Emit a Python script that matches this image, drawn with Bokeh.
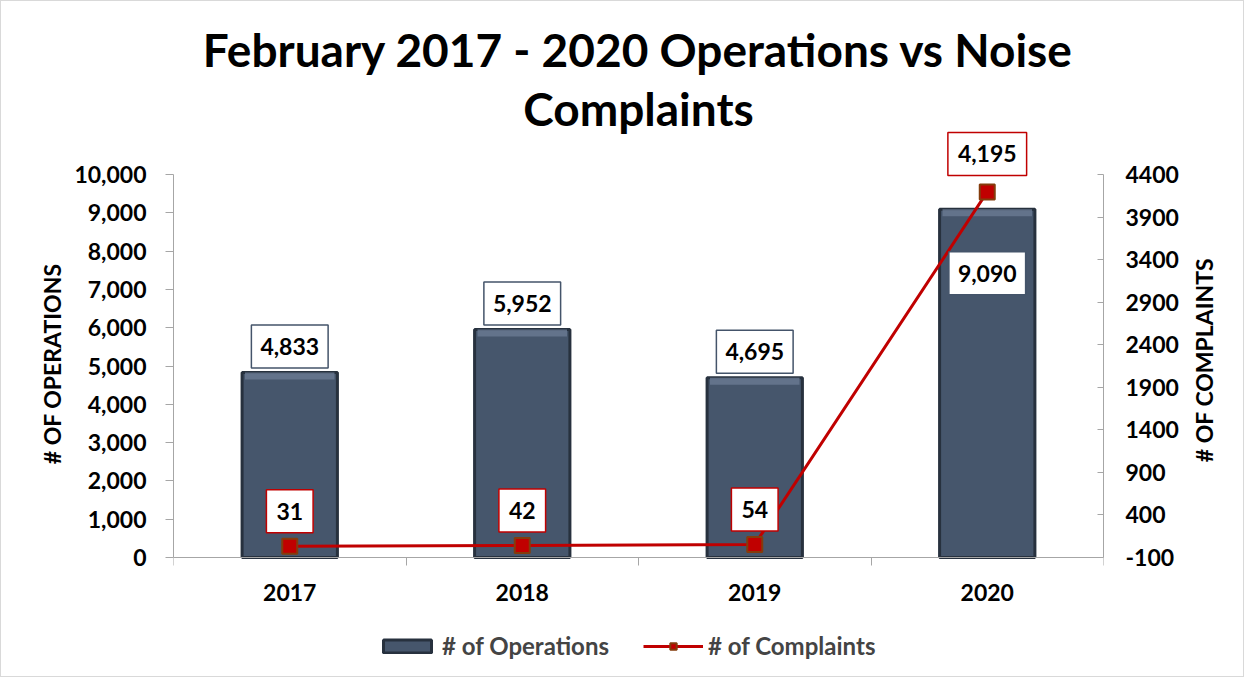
import math
from bokeh.plotting import figure
from bokeh.models import (Range1d, LinearAxis, FixedTicker, NumeralTickFormatter,
                          Label, Legend, LegendItem, Title, ColumnDataSource)
from bokeh.embed import file_html
from bokeh.resources import INLINE

years = ["2017", "2018", "2019", "2020"]
operations = [4833, 5952, 4695, 9090]
complaints = [31, 42, 54, 4195]
left_ticks = [0, 1000, 2000, 3000, 4000, 5000, 6000, 7000, 8000, 9000, 10000]
right_ticks = [-100, 400, 900, 1400, 1900, 2400, 2900, 3400, 3900, 4400]
right_title = "# OF COMPLAINTS"
RIGHT_TITLE_AT = 1020   # where the rotated right-hand title starts (complaints scale)

FONT = "Lato"
BAR = "#46566C"
RED = "#C00000"
AX = "#A6A6A6"
NB = "\u00a0"

# frame extends above and below the axes' span (room for labels and legend)
PX_AXIS = 383.0   # px between lowest and highest tick
PX_ABOVE = 430.0  # px from baseline to frame top
PX_BELOW = 121.0  # px from baseline to frame bottom


def padded(lo, hi):
    u = (hi - lo) / PX_AXIS
    return Range1d(lo - PX_BELOW * u, lo + PX_ABOVE * u)


xs = [i + 0.5 for i in range(len(years))]
upx = (left_ticks[-1] - left_ticks[0]) / PX_AXIS   # data units per pixel
src = ColumnDataSource(dict(x=xs, ops=operations, comp=complaints,
                            hl=[v - 7 * upx for v in operations]))

p = figure(width=1244, height=677, output_backend="svg", toolbar_location=None,
           x_range=Range1d(0, len(years)), y_range=padded(left_ticks[0], left_ticks[-1]),
           title=None, min_border_left=172, min_border_right=142,
           min_border_top=126, min_border_bottom=0)
p.outline_line_color = None
p.xgrid.visible = False
p.ygrid.visible = False
p.extra_y_ranges = {"c": padded(right_ticks[0], right_ticks[-1])}
p.styles = {"border": "1px solid #D9D9D9"}

# x axis at the zero baseline
xa = p.xaxis[0]
xa.fixed_location = 0
xa.ticker = FixedTicker(ticks=xs, minor_ticks=list(range(len(years) + 1)))
xa.major_label_overrides = {x: y for x, y in zip(xs, years)}
xa.major_tick_line_color = None
xa.minor_tick_line_color = AX
xa.minor_tick_out = 8
xa.minor_tick_in = 0
xa.axis_line_color = AX
xa.major_label_text_font = FONT
xa.major_label_text_font_style = "bold"
xa.major_label_text_font_size = "23px"
xa.major_label_text_color = "black"
xa.major_label_standoff = 18

# left axis
ya = p.yaxis[0]
ya.bounds = (left_ticks[0], left_ticks[-1])
ya.ticker = FixedTicker(ticks=left_ticks)
ya.formatter = NumeralTickFormatter(format="0,0")
ya.axis_line_color = AX
ya.major_tick_line_color = AX
ya.major_tick_out = 8
ya.major_tick_in = 0
ya.minor_tick_line_color = None
ya.major_label_text_font = FONT
ya.major_label_text_font_style = "bold"
ya.major_label_text_font_size = "23px"
ya.major_label_text_color = "black"
ya.major_label_standoff = 19
ya.axis_label = NB * 14 + "# OF OPERATIONS"
ya.axis_label_text_font = FONT
ya.axis_label_text_font_style = "bold"
ya.axis_label_text_font_size = "23px"
ya.axis_label_text_color = "black"
ya.axis_label_standoff = 5

# right axis
ra = LinearAxis(y_range_name="c", ticker=FixedTicker(ticks=right_ticks),
                formatter=NumeralTickFormatter(format="0"),
                bounds=(right_ticks[0], right_ticks[-1]))
ra.axis_line_color = AX
ra.major_tick_line_color = AX
ra.major_tick_in = 6
ra.major_tick_out = 0
ra.minor_tick_line_color = None
ra.major_label_text_font = FONT
ra.major_label_text_font_style = "bold"
ra.major_label_text_font_size = "23px"
ra.major_label_text_color = "black"
ra.major_label_standoff = 22
p.add_layout(ra, "right")

# right-hand title, reading bottom-to-top, drawn as the single label of a bare axis
rt = LinearAxis(y_range_name="c", ticker=FixedTicker(ticks=[RIGHT_TITLE_AT]),
                major_label_overrides={RIGHT_TITLE_AT: right_title})
rt.axis_line_color = None
rt.major_tick_line_color = None
rt.minor_tick_line_color = None
rt.major_label_orientation = math.pi / 2
rt.major_label_text_font = FONT
rt.major_label_text_font_style = "bold"
rt.major_label_text_font_size = "23px"
rt.major_label_text_color = "black"
rt.major_label_standoff = 17
p.add_layout(rt, "right")

# titles (last added is furthest from the plot)
for t, so in [("Complaints", -16), ("February 2017 - 2020 Operations vs Noise", 19)]:
    p.add_layout(Title(text=t, align="center", text_font=FONT, text_font_style="bold",
                       text_font_size="46px", text_color="black", standoff=so), "above")

bars = p.vbar(x="x", top="ops", width=0.41, source=src, fill_color=BAR,
              line_color="#27313E", line_width=3)
# bevel highlight along the top of each bar
p.vbar(x="x", top="ops", bottom="hl", width=0.385, source=src, fill_color="#6A7B94",
       fill_alpha=0.8, line_color=None)
ln = p.line(x="x", y="comp", source=src, y_range_name="c", line_color=RED, line_width=3)
mk = p.scatter(x="x", y="comp", source=src, y_range_name="c", marker="square", size=15,
               fill_color=RED, line_color="#843C0C", line_width=2)

for i, (x, v) in enumerate(zip(xs, operations)):
    off = -64 if i == len(years) - 1 else 26
    p.add_layout(Label(x=x, y=v, text=f"{v:,}", y_offset=off, text_align="center",
                       text_baseline="middle", text_font=FONT, text_font_style="bold",
                       text_font_size="23px", text_color="black",
                       background_fill_color="white", border_line_color="#44546A",
                       border_line_width=1.5, padding=dict(x=9, y=13)))
for i, (x, v) in enumerate(zip(xs, complaints)):
    off = 38 if i == len(years) - 1 else 35
    p.add_layout(Label(x=x, y=v, y_range_name="c", text=f"{v:,}", y_offset=off,
                       text_align="center", text_baseline="middle", text_font=FONT,
                       text_font_style="bold", text_font_size="23px", text_color="black",
                       background_fill_color="white", border_line_color=RED,
                       border_line_width=1.5, padding=dict(x=10, y=13)))

legend = Legend(items=[LegendItem(label="# of Operations", renderers=[bars]),
                       LegendItem(label="# of Complaints", renderers=[ln, mk])],
                orientation="horizontal", location=(204, 18),
                label_text_font=FONT, label_text_font_style="bold",
                label_text_font_size="24px", glyph_width=60, glyph_height=16,
                label_standoff=5, spacing=34, border_line_color=None,
                background_fill_alpha=0)
p.add_layout(legend, "center")

open("out.html", "w").write(file_html(p, INLINE))
